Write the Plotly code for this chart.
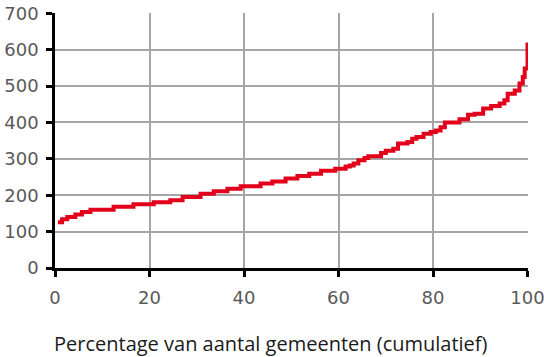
import plotly.graph_objects as go

# Percentage of municipalities (cumulative) at each step, and the value from that point on
pct = [0.6, 1.5, 2.6, 4.3, 5.7, 7.5, 12.4, 16.6, 20.9, 24.4, 27.0, 30.8, 33.6, 36.5, 39.3,
       43.5, 46.0, 48.8, 51.3, 53.8, 56.3, 59.3, 61.5, 62.4, 63.2, 64.2, 65.5, 66.3, 69.0,
       70.0, 71.6, 72.6, 74.6, 75.6, 76.5, 78.0, 79.5, 80.6, 81.6, 82.5, 85.6, 87.4, 88.8,
       90.6, 92.3, 94.1, 95.1, 95.8, 97.3, 98.3, 99.0, 99.4, 100.0, 100.0]
values = [126, 134, 140, 147, 154, 160, 168, 175, 181, 186, 195, 204, 211, 218, 225,
          232, 238, 246, 253, 259, 267, 273, 279, 282, 287, 296, 302, 307, 316,
          322, 328, 342, 346, 355, 360, 369, 374, 378, 387, 400, 409, 421, 424,
          438, 445, 452, 461, 479, 488, 507, 525, 548, 552, 620]

x_ticks = [0, 20, 40, 60, 80, 100]
y_ticks = [0, 100, 200, 300, 400, 500, 600, 700]
x_title = "Percentage van aantal gemeenten (cumulatief)"

fig = go.Figure()
fig.add_trace(go.Scatter(x=pct, y=values, mode="lines", line_shape="hv",
                         line=dict(color="#e2001a", width=4), hoverinfo="skip"))

tickfont = dict(family="DejaVu Sans", size=18, color="#595959")
axis_common = dict(showgrid=True, gridcolor="#a6a6a6", gridwidth=1.5, showline=True,
                   linecolor="black", linewidth=2.5, ticks="outside", ticklen=6,
                   tickwidth=2.5, tickcolor="black", tickfont=tickfont, zeroline=False,
                   fixedrange=True, ticklabeloverflow="allow", automargin=False)
fig.update_layout(
    width=544, height=357,
    margin=dict(l=55, r=16, t=13, b=89),
    paper_bgcolor="white", plot_bgcolor="white",
    showlegend=False,
    xaxis=dict(range=[0, 100.1], tickvals=x_ticks, ticklabelstandoff=6, **axis_common),
    yaxis=dict(range=[0, 700.8], tickvals=y_ticks, ticklabelstandoff=4, **axis_common),
    annotations=[dict(text=x_title, xref="paper", yref="paper",
                      x=(271 - 55) / (528 - 55), y=-0.295, showarrow=False,
                      xanchor="center", yanchor="middle",
                      font=dict(family="Open Sans", size=20, color="#1a1a1a"))],
)
fig.write_html("out.html")
